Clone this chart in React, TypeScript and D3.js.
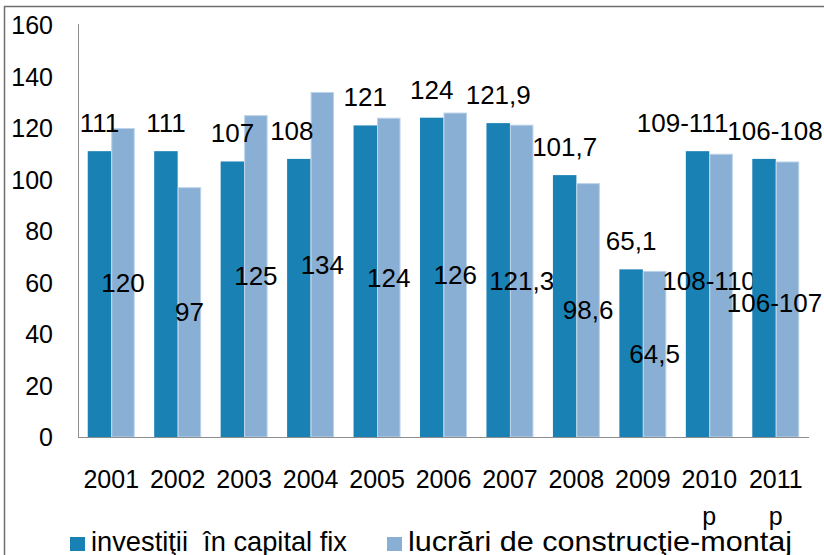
import React, { useEffect, useRef } from 'react';
import * as d3 from 'd3';

// categories (years) and the second line under some of them
const years = ['2001', '2002', '2003', '2004', '2005', '2006', '2007', '2008', '2009', '2010', '2011'];
const yearNotes = ['', '', '', '', '', '', '', '', '', 'p', 'p'];

// investitii in capital fix
const investValues = [111, 111, 107, 108, 121, 124, 121.9, 101.7, 65.1, 111, 108];
const investLabels = ['111', '111', '107', '108', '121', '124', '121,9', '101,7', '65,1', '109-111', '106-108'];

// lucrari de constructie-montaj
const constrValues = [120, 97, 125, 134, 124, 126, 121.3, 98.6, 64.5, 110, 107];
const constrLabels = ['120', '97', '125', '134', '124', '126', '121,3', '98,6', '64,5', '108-110', '106-107'];

const yTicks = [0, 20, 40, 60, 80, 100, 120, 140, 160];

const seriesNames = ['investiţii  în capital fix', 'lucrări de construcţie-montaj'];
const seriesColors = ['#1a81b5', '#8aafd4'];

// hand-moved labels in the original (x, y shift in px)
const investNudge: Record<string, [number, number]> = { '2004': [-7, 0], '2010': [-15, 0], '2011': [11, 0] };
const constrNudge: Record<string, [number, number]> = { '2010': [-12, -15], '2011': [-13, 3] };

const FONT = '"Liberation Sans", Arial, sans-serif';

function App() {
  const svgRef = useRef<SVGSVGElement>(null);

  useEffect(() => {
    const svg = d3.select(svgRef.current);
    svg.selectAll('*').remove();

    const plot = { left: 78, right: 809, top: 25, bottom: 437 };

    // outer band per year, inner band per series
    const x0 = d3
      .scaleBand()
      .domain(years)
      .range([plot.left, plot.right])
      .paddingInner(0.293)
      .paddingOuter(0.1465);
    const x1 = d3.scaleBand().domain(['invest', 'constr']).range([0, x0.bandwidth()]);
    const y = d3.scaleLinear().domain([0, 160]).range([plot.bottom, plot.top]);

    // outer frame (left and top edge)
    svg
      .append('path')
      .attr('d', `M4.5,555 V6.5 H824`)
      .attr('fill', 'none')
      .attr('stroke', '#6f6f6f')
      .attr('stroke-width', 1.5);

    // y axis labels
    svg
      .append('g')
      .selectAll('text')
      .data(yTicks)
      .enter()
      .append('text')
      .attr('x', 53)
      .attr('y', (d) => y(d))
      .attr('dy', '0.36em')
      .attr('text-anchor', 'end')
      .style('font-family', FONT)
      .style('font-size', '25px')
      .style('fill', '#000')
      .text((d) => d);

    const rows = years.map((yr, i) => ({
      year: yr,
      invest: investValues[i],
      constr: constrValues[i],
      investLabel: investLabels[i],
      constrLabel: constrLabels[i],
      note: yearNotes[i],
    }));

    // bars
    const groups = svg
      .append('g')
      .selectAll('g')
      .data(rows)
      .enter()
      .append('g')
      .attr('transform', (d) => `translate(${x0(d.year)},0)`);

    groups
      .append('rect')
      .attr('x', x1('invest')!)
      .attr('y', (d) => y(d.invest))
      .attr('width', x1.bandwidth())
      .attr('height', (d) => y(0) - y(d.invest))
      .style('fill', seriesColors[0]);

    groups
      .append('rect')
      .attr('x', x1('constr')! + 0.5)
      .attr('y', (d) => y(d.constr) + 0.5)
      .attr('width', x1.bandwidth() - 1)
      .attr('height', (d) => y(0) - y(d.constr) - 0.5)
      .style('fill', seriesColors[1])
      .style('stroke', '#bcd3ea')
      .style('stroke-width', 1);

    // axis lines
    svg
      .append('line')
      .attr('x1', plot.left + 0.5)
      .attr('x2', plot.left + 0.5)
      .attr('y1', plot.top - 1)
      .attr('y2', plot.bottom)
      .style('stroke', '#8e8e8e');
    svg
      .append('line')
      .attr('x1', plot.left)
      .attr('x2', plot.right)
      .attr('y1', plot.bottom + 0.5)
      .attr('y2', plot.bottom + 0.5)
      .style('stroke', '#8e8e8e');

    // labels above dark bars
    groups
      .append('text')
      .attr('x', (d) => x1('invest')! + x1.bandwidth() / 2 + (investNudge[d.year]?.[0] ?? 0))
      .attr('y', (d) => y(d.invest) - 19 + (investNudge[d.year]?.[1] ?? 0))
      .attr('text-anchor', 'middle')
      .style('font-family', FONT)
      .style('font-size', '26px')
      .style('fill', '#000')
      .text((d) => d.investLabel);

    // labels centred in light bars
    groups
      .append('text')
      .attr('x', (d) => x1('constr')! + x1.bandwidth() / 2 + (constrNudge[d.year]?.[0] ?? 0))
      .attr('y', (d) => (y(d.constr) + y(0)) / 2 + (constrNudge[d.year]?.[1] ?? 0))
      .attr('dy', '0.36em')
      .attr('text-anchor', 'middle')
      .style('font-family', FONT)
      .style('font-size', '26px')
      .style('fill', '#000')
      .text((d) => d.constrLabel);

    // x axis labels (year + optional note line)
    const xl = groups
      .append('text')
      .attr('text-anchor', 'middle')
      .style('font-family', FONT)
      .style('font-size', '25px')
      .style('fill', '#000');
    xl.append('tspan')
      .attr('x', x0.bandwidth() / 2)
      .attr('y', 488)
      .text((d) => d.year);
    xl.append('tspan')
      .attr('x', x0.bandwidth() / 2)
      .attr('y', 525)
      .text((d) => d.note);

    // legend
    const legendPos = [70, 387];
    const legendTextWidth = [256, 384];
    const legend = svg
      .append('g')
      .selectAll('g')
      .data(seriesNames)
      .enter()
      .append('g')
      .attr('transform', (d, i) => `translate(${legendPos[i]},0)`);
    legend
      .append('rect')
      .attr('x', 0)
      .attr('y', 537)
      .attr('width', 15)
      .attr('height', 14)
      .style('fill', (d, i) => seriesColors[i]);
    legend
      .append('text')
      .attr('x', 21)
      .attr('y', 551)
      .attr('textLength', (d, i) => legendTextWidth[i])
      .attr('lengthAdjust', 'spacingAndGlyphs')
      .style('font-family', FONT)
      .style('font-size', '28px')
      .style('white-space', 'pre')
      .style('fill', '#000')
      .text((d) => d);
  }, []);

  return (
    <svg
      ref={svgRef}
      width={824}
      height={555}
      style={{ position: 'absolute', left: 0, top: 0, background: '#fff' }}
    />
  );
}

export default App;
